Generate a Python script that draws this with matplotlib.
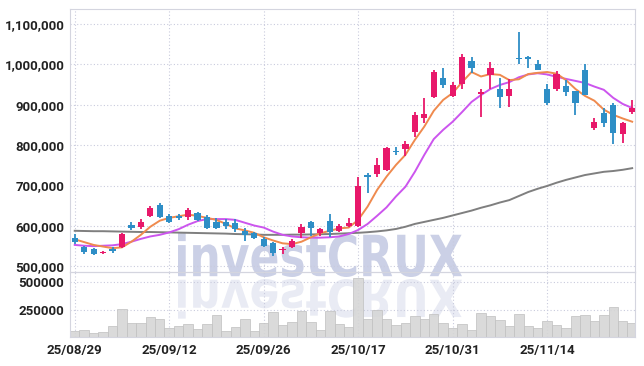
import numpy as np
import matplotlib
matplotlib.use("Agg")
import matplotlib.pyplot as plt
from matplotlib.textpath import TextPath
from matplotlib.patches import PathPatch
from matplotlib.font_manager import FontProperties
from matplotlib.transforms import Affine2D

# trading days shown on the chart
dates = ["25/08/29",
         "25/09/01", "25/09/02", "25/09/03", "25/09/04", "25/09/05",
         "25/09/08", "25/09/09", "25/09/10", "25/09/11", "25/09/12",
         "25/09/15", "25/09/16", "25/09/17", "25/09/18", "25/09/19",
         "25/09/22", "25/09/23", "25/09/24", "25/09/25", "25/09/26",
         "25/09/29", "25/09/30", "25/10/01", "25/10/02", "25/10/10",
         "25/10/13", "25/10/14", "25/10/15", "25/10/16", "25/10/17",
         "25/10/20", "25/10/21", "25/10/22", "25/10/23", "25/10/24",
         "25/10/27", "25/10/28", "25/10/29", "25/10/30", "25/10/31",
         "25/11/03", "25/11/04", "25/11/05", "25/11/06", "25/11/07",
         "25/11/10", "25/11/11", "25/11/12", "25/11/13", "25/11/14",
         "25/11/17", "25/11/18", "25/11/19", "25/11/20", "25/11/21",
         "25/11/24", "25/11/25", "25/11/26", "25/11/27"]

# prices in thousands
opens = [571, 549, 542, 533, 543, 549, 602, 597, 625, 652,
         625, 625, 623, 631, 621, 609, 609, 607, 588, 583,
         567, 559, 541, 549, 582, 610, 582, 612, 588, 600,
         600, 726, 728, 739, 786, 790, 833, 866, 920, 967,
         922, 952, 1008, 926, 974, 938, 922, 1016, 1019, 1000,
         938, 939, 947, 934, 986, 843, 879, 900, 828, 883]
highs = [580, 551, 545, 539, 549, 583, 609, 617, 649, 656,
         630, 630, 645, 634, 627, 619, 617, 617, 594, 585,
         572, 561, 549, 567, 605, 613, 596, 629, 604, 619,
         722, 730, 768, 795, 796, 810, 883, 917, 986, 990,
         956, 1026, 1017, 938, 1007, 966, 963, 1081, 1021, 1011,
         952, 984, 961, 934, 1001, 868, 891, 904, 858, 912]
lows = [555, 530, 528, 531, 532, 545, 590, 592, 622, 620,
        607, 615, 615, 612, 592, 592, 592, 586, 563, 567,
        549, 526, 530, 546, 571, 575, 575, 573, 586, 598,
        598, 682, 720, 737, 776, 773, 821, 856, 916, 941,
        919, 938, 978, 869, 938, 891, 895, 1002, 990, 986,
        900, 934, 922, 875, 923, 838, 846, 803, 806, 877]
closes = [561, 535, 531, 536, 538, 580, 596, 611, 645, 623,
          611, 620, 640, 615, 596, 596, 601, 593, 578, 570,
          551, 532, 544, 563, 598, 596, 592, 586, 600, 608,
          699, 722, 751, 792, 782, 802, 875, 877, 982, 949,
          949, 1019, 992, 932, 990, 918, 938, 1013, 1013, 987,
          905, 976, 932, 905, 923, 857, 854, 830, 854, 891]

# moving average lines as drawn (thousands)
ma_short = [567, 560, 553, 549, 545, 547, 561, 578, 598, 613,
            620, 624, 628, 625, 620, 615, 605, 594, 589, 583,
            572, 564, 557, 555, 561, 572, 582, 588, 594, 596,
            615, 648, 689, 722, 751, 776, 813, 846, 885, 912,
            929, 956, 981, 970, 976, 974, 961, 963, 976, 979,
            981, 977, 961, 939, 922, 910, 888, 875, 866, 858]
ma_mid = [553, 551, 550, 551, 552, 555, 561, 568, 574, 578,
          584, 592, 603, 612, 617, 617, 617, 615, 608, 601,
          596, 586, 578, 574, 572, 571, 571, 572, 574, 580,
          590, 605, 625, 646, 673, 697, 734, 776, 815, 838,
          858, 882, 907, 924, 939, 949, 956, 968, 975, 978,
          975, 969, 964, 959, 954, 945, 937, 917, 902, 892]
ma_long = [588, 587.5, 587, 587, 586.5, 586, 585.5, 585, 585, 584.5,
           584, 583.5, 583, 582.5, 582, 581.5, 581, 580, 579.5, 579,
           578, 578, 578, 578.5, 578.5, 579, 579.5, 580, 581, 582,
           583, 584.5, 586.5, 589, 592.5, 598, 605, 610, 615, 620,
           626, 632, 638, 645, 651, 658, 664, 674, 684, 692,
           699, 707, 714, 720, 726, 730, 734, 736, 739, 743]

# volume in thousands
volumes = [58, 67, 37, 49, 104, 256, 128, 128, 183, 165,
           82, 101, 119, 73, 119, 201, 55, 91, 165, 58,
           128, 229, 110, 137, 238, 137, 64, 236, 119, 91,
           540, 165, 250, 165, 110, 128, 189, 165, 213, 128,
           82, 119, 64, 220, 192, 156, 101, 210, 101, 82,
           146, 110, 82, 192, 201, 146, 201, 274, 146, 128]

UP = "#e8186a"
DOWN = "#2e8ec6"
GRID = "#c9cbdd"
SPINE = "#d4d5df"
FONT = ["Roboto", "DejaVu Sans"]

o = np.array(opens) * 1000
h = np.array(highs) * 1000
l = np.array(lows) * 1000
c = np.array(closes) * 1000
x = np.arange(len(dates))

fig = plt.figure(figsize=(6.44, 3.66), dpi=100)
fig.patch.set_facecolor("white")

W, H = 644, 366
ax = fig.add_axes([70 / W, 94 / H, 565 / W, 263 / H])
axv = fig.add_axes([70 / W, 29 / H, 565 / W, 65 / H], sharex=ax)

# watermark text and its faint mirror image
tp = TextPath((0, 0), "investCRUX", size=50,
              prop=FontProperties(family="DejaVu Sans", weight="bold"))
ext = tp.get_extents()
sx = 284 / ext.width
sy = 44 / ext.height
tr = Affine2D().translate(-ext.x0, -ext.y0).scale(sx, sy).translate(178, H - 277)
fig.add_artist(PathPatch(tp, transform=tr, facecolor="#cbd0e6", lw=0, zorder=-1))
tr2 = Affine2D().translate(-ext.x0, -ext.y0).scale(sx, -sy * 0.9).translate(178, H - 279)
fig.add_artist(PathPatch(tp, transform=tr2, facecolor="#e9ebf4", lw=0, zorder=-1))

for a in (ax, axv):
    a.set_facecolor("none")
    for s in a.spines.values():
        s.set_color(SPINE)
        s.set_linewidth(0.8)
    a.grid(True, color=GRID, linestyle=(0, (1, 2)), linewidth=0.8)
    a.set_axisbelow(True)
    a.tick_params(length=0, labelsize=9.5, labelcolor="#222222")

# moving averages
ax.plot(x, np.array(ma_long) * 1000, color="#7f7f7f", lw=1.4, zorder=2)
ax.plot(x, np.array(ma_mid) * 1000, color="#cc55ee", lw=1.4, zorder=2)
ax.plot(x, np.array(ma_short) * 1000, color="#ef8a4e", lw=1.4, zorder=2)

# candles
colors = [UP if cc >= oo else DOWN for oo, cc in zip(o, c)]
ax.vlines(x, l, h, colors=colors, lw=1.3, zorder=3)
body_bot = np.minimum(o, c)
body_h = np.maximum(np.abs(c - o), 3000)
ax.bar(x, body_h, bottom=body_bot, width=0.66, color=colors, lw=0, zorder=4)

ax.set_xlim(-0.5, 59.3)
ax.set_ylim(486000, 1137000)
ax.set_yticks(np.arange(500000, 1100001, 100000))
ax.set_yticklabels(["{:,}".format(v) for v in range(500000, 1100001, 100000)],
                   family=FONT, weight="bold")
ax.tick_params(labelbottom=False, pad=4)

# volume
axv.bar(x, np.array(volumes) * 1000, width=1.0, color="#d6d6d6",
        edgecolor="#c2c2c2", lw=0.6, alpha=0.9, zorder=2)
axv.set_ylim(0, 595000)
axv.set_yticks([250000, 500000])
axv.set_yticklabels(["250000", "500000"], family=FONT, weight="bold")
axv.tick_params(axis="y", pad=4)
ticks = [0, 10, 20, 30, 40, 50]
axv.set_xticks(ticks)
axv.set_xticklabels([dates[i] for i in ticks], family=FONT, weight="bold")
axv.tick_params(axis="x", pad=5)

fig.savefig("out.png", dpi=100)
